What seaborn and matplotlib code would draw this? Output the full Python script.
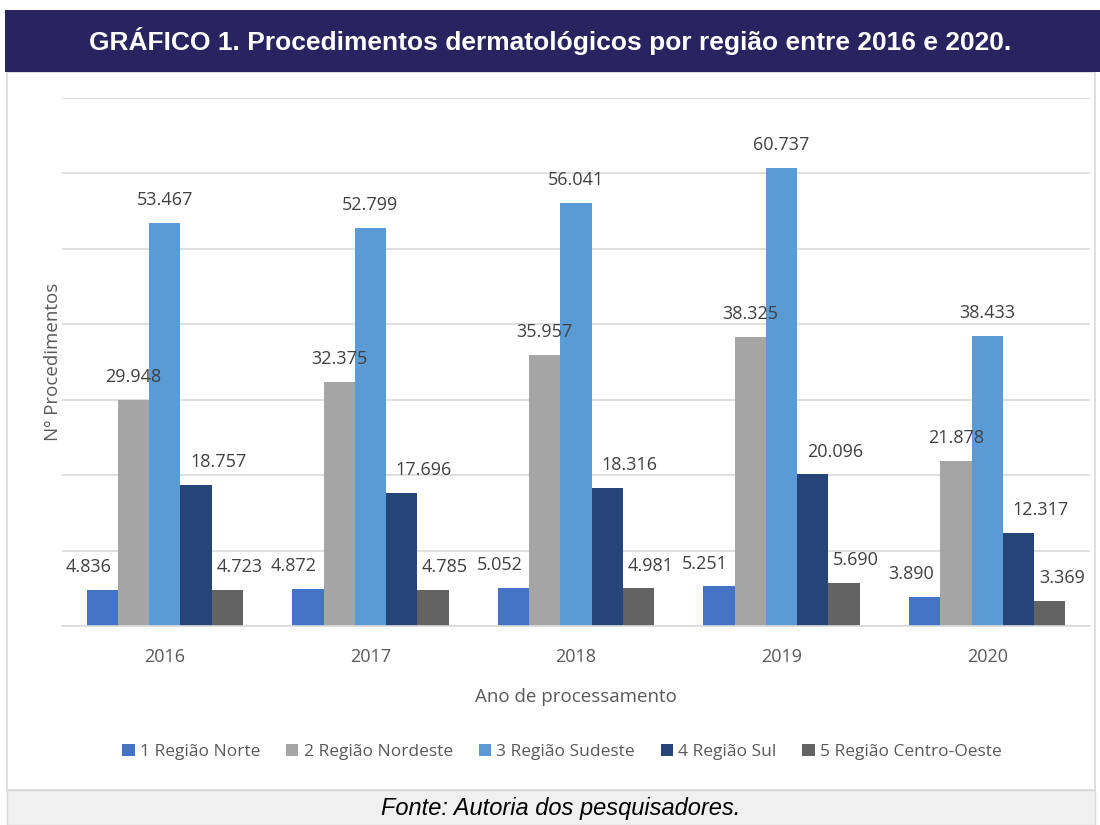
import matplotlib
matplotlib.use("Agg")
import matplotlib.pyplot as plt
import seaborn as sns
import pandas as pd
from matplotlib.patches import Rectangle

years = ["2016", "2017", "2018", "2019", "2020"]
regions = ["1 Região Norte", "2 Região Nordeste", "3 Região Sudeste", "4 Região Sul", "5 Região Centro-Oeste"]
norte = [4836, 4872, 5052, 5251, 3890]
nordeste = [29948, 32375, 35957, 38325, 21878]
sudeste = [53467, 52799, 56041, 60737, 38433]
sul = [18757, 17696, 18316, 20096, 12317]
centro_oeste = [4723, 4785, 4981, 5690, 3369]
colors = ["#4472C4", "#A5A5A5", "#5B9BD5", "#264478", "#636363"]

series = [norte, nordeste, sudeste, sul, centro_oeste]
rows = []
for reg, vals in zip(regions, series):
    for y, v in zip(years, vals):
        rows.append({"Ano": y, "Região": reg, "Valor": v})
df = pd.DataFrame(rows)

sns.set_theme(style="white")
plt.rcParams["font.family"] = ["Open Sans", "DejaVu Sans"]

fig = plt.figure(figsize=(11, 8.25), dpi=100)
W, H = 1100, 825

def fx(px):
    return px / W

def fy(py):
    return 1 - py / H

# chart area border
fig.patches.append(Rectangle((fx(7), fy(790)), fx(1095) - fx(7), fy(72) - fy(790),
                             transform=fig.transFigure, facecolor="white",
                             edgecolor="#D9D9D9", lw=1.2, zorder=0))
# title band
fig.patches.append(Rectangle((fx(5), fy(72)), 1 - fx(5), fy(10) - fy(72),
                             transform=fig.transFigure, facecolor="#27245F",
                             edgecolor="none", zorder=1))
fig.text(0.5, fy(41), "GRÁFICO 1. Procedimentos dermatológicos por região entre 2016 e 2020.",
         ha="center", va="center", color="white", fontsize=19, fontweight="bold",
         family=["Liberation Sans", "DejaVu Sans"])
# footer band
fig.patches.append(Rectangle((fx(7), 0), fx(1095) - fx(7), fy(790),
                             transform=fig.transFigure, facecolor="#F0F0F0",
                             edgecolor="#D9D9D9", lw=1.0, zorder=1))
fig.text(fx(561), fy(809), "Fonte: Autoria dos pesquisadores.", ha="center", va="center",
         color="black", fontsize=17, style="italic", family=["Liberation Sans", "DejaVu Sans"])

ax = fig.add_axes([fx(62), fy(626), fx(1090) - fx(62), fy(98) - fy(626)])
ax.set_zorder(5)
ax.patch.set_alpha(0)
sns.barplot(data=df, x="Ano", y="Valor", hue="Região", palette=colors, width=0.76,
            gap=0, saturation=1, ax=ax, legend=True, edgecolor="none")
ax.set_ylim(0, 70000)
ax.set_xlim(-0.5, 4.5)
ax.set_yticks(range(0, 70001, 10000))
ax.set_yticklabels([])
ax.tick_params(axis="y", length=0, pad=0)
ax.tick_params(axis="x", length=0, pad=16, labelsize=13, labelcolor="#595959")
ax.yaxis.grid(True, color="#D9D9D9", lw=1.2)
ax.set_axisbelow(True)
for s in ["top", "right", "left"]:
    ax.spines[s].set_visible(False)
ax.spines["bottom"].set_color("#D9D9D9")
ax.spines["bottom"].set_linewidth(1.2)

# horizontal nudges of data labels (pixels), per series
nudges = [-14, 0, 0, 22, 12]
for cont, dx in zip(ax.containers, nudges):
    labels = [f"{int(v):,}".replace(",", ".") for v in cont.datavalues]
    anns = ax.bar_label(cont, labels=labels, padding=10, fontsize=13, color="#404040")
    for a in anns:
        a.xyann = (dx * 0.72, a.xyann[1])

ax.set_xlabel("Ano de processamento", fontsize=13.5, color="#595959", labelpad=16)
ax.set_ylabel("Nº Procedimentos", fontsize=13.5, color="#595959", labelpad=0)

handles, labs = ax.get_legend_handles_labels()
ax.legend_.remove()
fig.legend(handles, labs, loc="center", bbox_to_anchor=(fx(562), fy(752)), ncol=5,
           frameon=False, fontsize=12.5, handlelength=0.7, handleheight=0.7,
           handletextpad=0.3, columnspacing=1.5, labelcolor="#595959")

fig.savefig("out.png", dpi=100)
